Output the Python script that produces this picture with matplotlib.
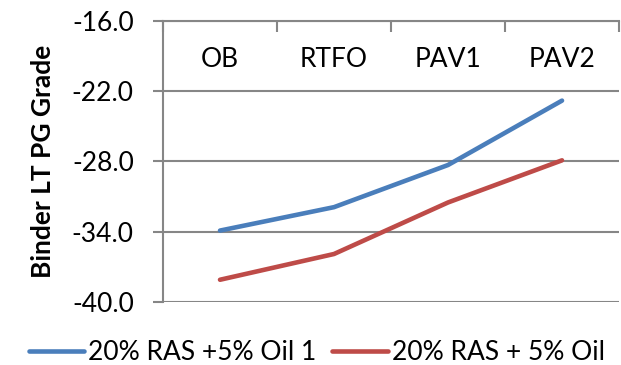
import matplotlib
matplotlib.use("Agg")
from matplotlib import pyplot as plt

plt.rcParams['font.family'] = ['Lato', 'DejaVu Sans']

stages = ['OB', 'RTFO', 'PAV1', 'PAV2']
oil1 = [-33.9, -31.9, -28.3, -22.8]
oil2 = [-38.1, -35.9, -31.5, -27.9]
series_names = ['20% RAS +5% Oil 1', '20% RAS + 5% Oil']
y_ticks = [-40, -34, -28, -22, -16]

grid_grey = '#868686'

fig = plt.figure(figsize=(6.21, 3.65), dpi=100)
ax = fig.add_axes([0.2625, 0.1726, 0.7343, 0.7699])

x = list(range(len(stages)))
ax.plot(x, oil1, color='#4A7EBB', linewidth=3.3, solid_capstyle='round', label=series_names[0])
ax.plot(x, oil2, color='#BE4B48', linewidth=3.3, solid_capstyle='round', label=series_names[1])

ax.set_xlim(-0.5, len(stages) - 0.5)
ax.set_ylim(-40, -16)

# y axis
ax.set_yticks(y_ticks)
ax.set_yticklabels([f'{v:.1f}' for v in y_ticks], fontsize=19)
ax.tick_params(axis='y', length=7, width=1.5, color=grid_grey, pad=14)
ax.yaxis.grid(True, color=grid_grey, linewidth=1.5)
ax.set_ylabel('Binder LT PG Grade', fontsize=19, fontweight='bold', labelpad=12)

# category axis sits on top, labels drawn just under it
ax.xaxis.set_ticks_position('top')
ax.set_xticks(x)
ax.set_xticklabels(stages, fontsize=19)
ax.tick_params(axis='x', which='major', length=0, labeltop=True, labelbottom=False, pad=-37)
ax.set_xticks([i - 0.5 for i in range(len(stages) + 1)], minor=True)
ax.tick_params(axis='x', which='minor', direction='in', length=8, width=1.5, color=grid_grey)

for side in ['bottom', 'right']:
    ax.spines[side].set_visible(False)
for side in ['left', 'top']:
    ax.spines[side].set_color(grid_grey)
    ax.spines[side].set_linewidth(1.5)
ax.set_axisbelow(True)

fig.legend(loc='lower left', bbox_to_anchor=(0.008, -0.065), ncol=2, frameon=False,
           fontsize=19, handlelength=2.1, handletextpad=0.15, columnspacing=0.6)

fig.savefig('out.png', dpi=100)
